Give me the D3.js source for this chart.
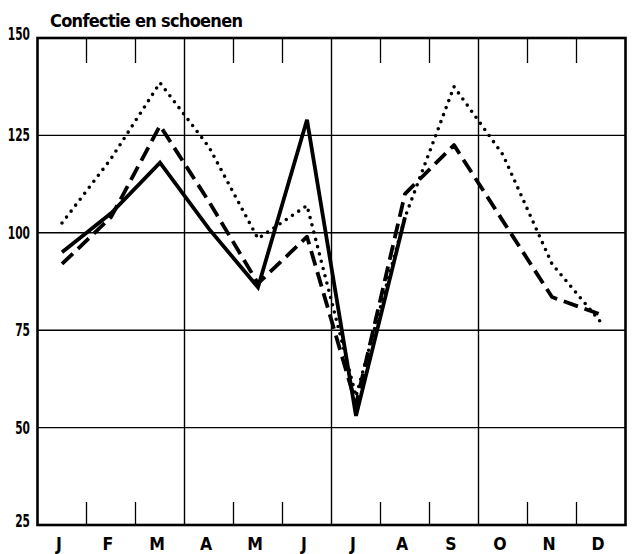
<!DOCTYPE html>
<html><head><meta charset="utf-8">
<script src="https://cdn.jsdelivr.net/npm/d3@7"></script>
<style>
html,body{margin:0;padding:0;background:#fff;}
text{font-family:"Liberation Sans Narrow","DejaVu Sans Condensed","Arial Narrow",sans-serif;font-weight:bold;fill:#000;}
</style></head>
<body><svg id="c" width="638" height="554"></svg>
<script>
const title = "Confectie en schoenen";
const months = ["J","F","M","A","M","J","J","A","S","O","N","D"];
const yTicks = [25, 50, 75, 100, 125, 150];
const solidValues  = [95, 105, 118, 101, 86, 129, 53, 104];
const dashedValues = [92, 104, 127.5, 108, 87, 99, 56, 110, 122.5, 103, 83.5, 79];
const dottedValues = [102.5, 119, 138.5, 122, 98.5, 107, 58, 104, 137.5, 120, 92, 77];

const svg = d3.select("#c");
const L = 37.5, R = 625.5, T = 38, B = 525;
const x = d3.scaleLinear().domain([0, 12]).range([L, R]);
const y = d3.scaleLinear().domain([25, 150]).range([B, T]);

// horizontal grid
svg.append("g").selectAll("line").data(yTicks.slice(1, -1)).join("line")
  .attr("x1", L).attr("x2", R).attr("y1", d => y(d)).attr("y2", d => y(d))
  .attr("stroke", "#000").attr("stroke-width", 1.4);

// quarter lines
svg.append("g").selectAll("line").data([3, 6, 9]).join("line")
  .attr("x1", d => x(d)).attr("x2", d => x(d)).attr("y1", T).attr("y2", B)
  .attr("stroke", "#000").attr("stroke-width", 1.4);

// month ticks top & bottom
const mt = d3.range(1, 12).filter(d => d % 3 !== 0);
svg.append("g").selectAll("line").data(mt).join("line")
  .attr("x1", d => x(d)).attr("x2", d => x(d)).attr("y1", T).attr("y2", T + 25)
  .attr("stroke", "#000").attr("stroke-width", 1.3);
svg.append("g").selectAll("line").data(mt).join("line")
  .attr("x1", d => x(d)).attr("x2", d => x(d)).attr("y1", B).attr("y2", B - 23)
  .attr("stroke", "#000").attr("stroke-width", 1.3);

// frame
svg.append("rect").attr("x", L).attr("y", T).attr("width", R - L).attr("height", B - T)
  .attr("fill", "none").attr("stroke", "#000").attr("stroke-width", 2.6);

// y labels
svg.append("g").selectAll("text").data(yTicks).join("text")
  .attr("x", 30).attr("y", d => y(d) + (d === 150 || d === 25 ? 2 : 6))
  .attr("text-anchor", "end").attr("font-size", 17)
  .attr("textLength", d => String(d).length * 7.4).attr("lengthAdjust", "spacingAndGlyphs")
  .text(d => d);

// month labels
svg.append("g").selectAll("text").data(months).join("text")
  .attr("x", (d, i) => x(i + 0.5) - 3).attr("y", 550)
  .attr("text-anchor", "middle").attr("font-size", 17.5).text(d => d);

// title
svg.append("text").attr("x", 50).attr("y", 27).attr("font-size", 18)
  .attr("textLength", 193).attr("lengthAdjust", "spacing").text(title);

const line = d3.line().x((d, i) => x(i + 0.5)).y(d => y(d));

svg.append("path").datum(dottedValues).attr("d", line)
  .attr("fill", "none").attr("stroke", "#000").attr("stroke-width", 3.6)
  .attr("stroke-linecap", "round").attr("stroke-dasharray", "0 7.5");
svg.append("path").datum(dashedValues).attr("d", line)
  .attr("fill", "none").attr("stroke", "#000").attr("stroke-width", 3.8)
  .attr("stroke-dasharray", "15 7").attr("stroke-linejoin", "round");
svg.append("path").datum(solidValues).attr("d", line)
  .attr("fill", "none").attr("stroke", "#000").attr("stroke-width", 3.8)
  .attr("stroke-linejoin", "miter");
</script></body></html>
